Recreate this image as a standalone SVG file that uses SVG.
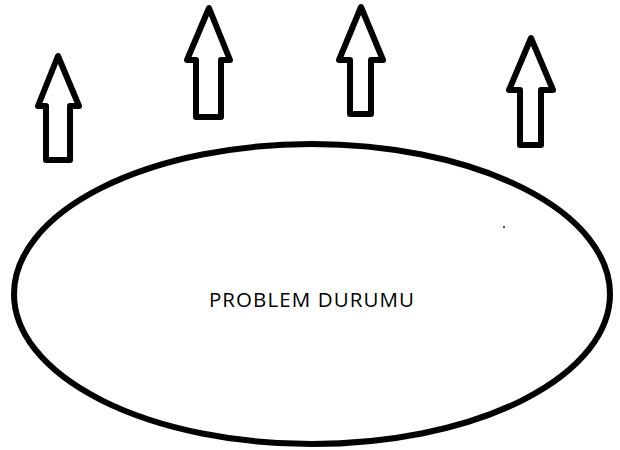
<svg xmlns="http://www.w3.org/2000/svg" width="620" height="450" viewBox="0 0 620 450">
  <style>
    .arrow { fill: #ffffff; stroke: #000000; stroke-width: 6; stroke-linejoin: round; }
    .oval { fill: #ffffff; stroke: #000000; stroke-width: 6; }
    .label { font-family: "Open Sans", "Noto Sans", sans-serif; font-size: 20.5px; letter-spacing: 1.1px; fill: #000000; }
  </style>
  <rect width="620" height="450" fill="#ffffff"/>
  <g id="arrows">
    <g id="arrow-1"><polygon class="arrow" points="58,56 38,106 46,106 46,160 70,160 70,106 79,106"/></g>
    <g id="arrow-2"><polygon class="arrow" points="209,8 187,60 196,60 196,117 221,117 221,60 230,60"/></g>
    <g id="arrow-3"><polygon class="arrow" points="361,7 339,60 350,60 350,114 371,114 371,60 383,60"/></g>
    <g id="arrow-4"><polygon class="arrow" points="531,38 509,90 520,90 520,145 541,145 541,90 553,90"/></g>
  </g>
  <g id="problem">
    <ellipse class="oval" cx="312" cy="294" rx="298" ry="150"/>
    <text class="label" x="312" y="307" text-anchor="middle">PROBLEM DURUMU</text>
  </g>
  <rect x="503" y="226" width="2" height="2" fill="#555555"/>
</svg>
